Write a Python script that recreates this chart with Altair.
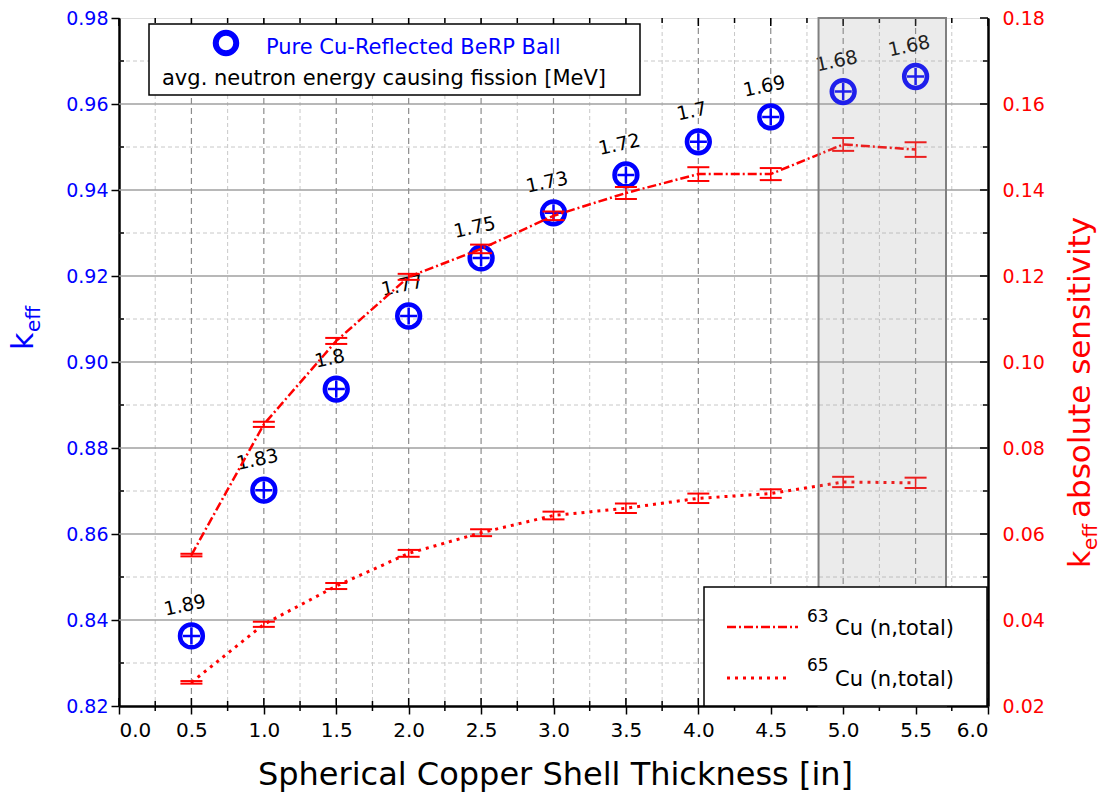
import altair as alt
import pandas as pd

# ---------------- data ----------------
thickness = [0.5, 1.0, 1.5, 2.0, 2.5, 3.0, 3.5, 4.0, 4.5, 5.0, 5.5]
keff = [0.8363, 0.8702, 0.8937, 0.9107, 0.9242, 0.9347, 0.9435, 0.9512, 0.9570, 0.9629, 0.9664]
keff_err = [0.0005, 0.0005, 0.0005, 0.0005, 0.0005, 0.0005, 0.0005, 0.0005, 0.0005, 0.0005, 0.0005]
energy = ["1.89", "1.83", "1.8", "1.77", "1.75", "1.73", "1.72", "1.7", "1.69", "1.68", "1.68"]
cu63 = [0.0551, 0.0855, 0.1049, 0.1198, 0.1263, 0.1340, 0.1393, 0.1437, 0.1437, 0.1506, 0.1494]
cu63_err = [0.0003, 0.0006, 0.0007, 0.0007, 0.0010, 0.0010, 0.0014, 0.0016, 0.0014, 0.0015, 0.0017]
cu65 = [0.0255, 0.0390, 0.0479, 0.0555, 0.0603, 0.0643, 0.0660, 0.0683, 0.0694, 0.0721, 0.0719]
cu65_err = [0.0003, 0.0006, 0.0007, 0.0008, 0.0008, 0.0009, 0.0011, 0.0011, 0.0010, 0.0012, 0.0012]
shade_range = [4.83, 5.71]

x_major = [0.0, 0.5, 1.0, 1.5, 2.0, 2.5, 3.0, 3.5, 4.0, 4.5, 5.0, 5.5, 6.0]
x_minor = [0.25, 0.75, 1.25, 1.75, 2.25, 2.75, 3.25, 3.75, 4.25, 4.75, 5.25, 5.75]
yl_major = [0.82, 0.84, 0.86, 0.88, 0.90, 0.92, 0.94, 0.96, 0.98]
yl_minor = [0.83, 0.85, 0.87, 0.89, 0.91, 0.93, 0.95, 0.97]
yr_major = [0.02, 0.04, 0.06, 0.08, 0.10, 0.12, 0.14, 0.16, 0.18]
yr_minor = [0.03, 0.05, 0.07, 0.09, 0.11, 0.13, 0.15, 0.17]

W, H = 869, 688
FONT = "DejaVu Sans"
BLUE = "#0000ff"
RED = "#ff0000"

df = pd.DataFrame({
    "t": thickness, "keff": keff,
    "klo": [k - e for k, e in zip(keff, keff_err)],
    "khi": [k + e for k, e in zip(keff, keff_err)],
    "E": energy,
    "c63": cu63,
    "c63lo": [v - e for v, e in zip(cu63, cu63_err)],
    "c63hi": [v + e for v, e in zip(cu63, cu63_err)],
    "c65": cu65,
    "c65lo": [v - e for v, e in zip(cu65, cu65_err)],
    "c65hi": [v + e for v, e in zip(cu65, cu65_err)],
})
one = pd.DataFrame({"a": [0]})

xscale = alt.Scale(domain=[0, 6], nice=False, zero=False)
x_axis = alt.Axis(values=x_major, format=".1f", title=None, grid=False,
                  labelFont=FONT, labelFontSize=20, labelColor="black",
                  tickSize=8, tickWidth=1.5, tickColor="black",
                  domainColor="black", domainWidth=2.5, labelPadding=6)
lscale = alt.Scale(domain=[0.82, 0.98], nice=False, zero=False)
l_axis = alt.Axis(values=yl_major, format=".2f", title=None, grid=False,
                  labelFont=FONT, labelFontSize=19, labelColor=BLUE,
                  tickSize=8, tickWidth=1.5, tickColor="black",
                  domainColor="black", domainWidth=2.5, labelPadding=3)
rscale = alt.Scale(domain=[0.02, 0.18], nice=False, zero=False)
r_axis = alt.Axis(values=yr_major, format=".2f", title=None, grid=False, orient="right",
                  labelFont=FONT, labelFontSize=19, labelColor=RED,
                  tickSize=0, tickColor="black",
                  domainColor="black", domainWidth=2.5, labelPadding=14)


def X(field="t"):
    return alt.X(f"{field}:Q", scale=xscale, axis=x_axis)


def YL(field):
    return alt.Y(f"{field}:Q", scale=lscale, axis=l_axis)


def YR(field):
    return alt.Y(f"{field}:Q", scale=rscale, axis=r_axis)


# ---------------- grid lines ----------------
hmaj = pd.DataFrame({"v": yl_major[1:-1]})
hmin = pd.DataFrame({"v": yl_minor})
vmaj = pd.DataFrame({"v": x_major[1:-1]})
vmin = pd.DataFrame({"v": x_minor})

grid_hmin = alt.Chart(hmin).mark_rule(color="#c8c8c8", strokeWidth=1, strokeDash=[4, 3]).encode(
    y=YL("v"), x=alt.value(0), x2=alt.value(W))
grid_vmin = alt.Chart(vmin).mark_rule(color="#c8c8c8", strokeWidth=1, strokeDash=[4, 3]).encode(
    x=X("v"), y=alt.value(0), y2=alt.value(H))
grid_hmaj = alt.Chart(hmaj).mark_rule(color="#a0a0a0", strokeWidth=1.5).encode(
    y=YL("v"), x=alt.value(0), x2=alt.value(W))
grid_vmaj = alt.Chart(vmaj).mark_rule(color="#8c8c8c", strokeWidth=1.2, strokeDash=[6, 4]).encode(
    x=X("v"), y=alt.value(0), y2=alt.value(H))

# inner ticks
xt_maj = pd.DataFrame({"v": x_major})
xt_min = pd.DataFrame({"v": x_minor})
tick_bot_maj = alt.Chart(xt_maj).mark_rule(color="black", strokeWidth=1.5).encode(
    x=X("v"), y=alt.value(H), y2=alt.value(H - 8))
tick_bot_min = alt.Chart(xt_min).mark_rule(color="black", strokeWidth=1.5).encode(
    x=X("v"), y=alt.value(H + 5), y2=alt.value(H - 5))
tick_top_maj = alt.Chart(xt_maj).mark_rule(color="black", strokeWidth=1.5).encode(
    x=X("v"), y=alt.value(0), y2=alt.value(8))
tick_top_min = alt.Chart(xt_min).mark_rule(color="black", strokeWidth=1.5).encode(
    x=X("v"), y=alt.value(0), y2=alt.value(5))
tick_left_min = alt.Chart(pd.DataFrame({"v": yl_minor})).mark_rule(color="black", strokeWidth=1.5).encode(
    y=YL("v"), x=alt.value(0), x2=alt.value(5))
tick_right_maj = alt.Chart(pd.DataFrame({"v": yr_major})).mark_rule(color="black", strokeWidth=1.5).encode(
    y=YR("v"), x=alt.value(W), x2=alt.value(W - 8))
tick_right_min = alt.Chart(pd.DataFrame({"v": yr_minor})).mark_rule(color="black", strokeWidth=1.5).encode(
    y=YR("v"), x=alt.value(W), x2=alt.value(W - 5))

# ---------------- k_eff series (left axis) ----------------
base = alt.Chart(df)
circles = base.mark_point(shape="circle", filled=False, size=520, strokeWidth=4.5, color=BLUE,
                          opacity=1).encode(x=X(), y=YL("keff"))
plus = base.mark_point(shape="M-0.75,0H0.75M0,-0.75V0.75", filled=False, size=520,
                       strokeWidth=2.5, color=BLUE, opacity=1).encode(x=X(), y=YL("keff"))
labels = base.mark_text(font=FONT, fontSize=19, color="black", dy=-31, angle=348).encode(
    x=X(), y=YL("keff"), text="E:N")

left_group = alt.layer(grid_hmin, grid_vmin, grid_hmaj, grid_vmaj,
                       tick_bot_maj, tick_bot_min, tick_top_maj, tick_top_min, tick_left_min,
                       circles, plus, labels)

# ---------------- sensitivity series (right axis) ----------------
line63 = base.mark_line(color=RED, strokeWidth=2.5, strokeDash=[9, 3, 2, 3]).encode(
    x=X(), y=YR("c63"))
bar63 = base.mark_rule(color=RED, strokeWidth=1.5).encode(x=X(), y=YR("c63lo"), y2="c63hi")
cap63a = base.mark_tick(color=RED, size=22, thickness=2, orient="horizontal", opacity=1).encode(
    x=X(), y=YR("c63lo"))
cap63b = base.mark_tick(color=RED, size=22, thickness=2, orient="horizontal", opacity=1).encode(
    x=X(), y=YR("c63hi"))
line65 = base.mark_line(color=RED, strokeWidth=3, strokeDash=[3, 5]).encode(
    x=X(), y=YR("c65"))
bar65 = base.mark_rule(color=RED, strokeWidth=1.5).encode(x=X(), y=YR("c65lo"), y2="c65hi")
cap65a = base.mark_tick(color=RED, size=22, thickness=2, orient="horizontal", opacity=1).encode(
    x=X(), y=YR("c65lo"))
cap65b = base.mark_tick(color=RED, size=22, thickness=2, orient="horizontal", opacity=1).encode(
    x=X(), y=YR("c65hi"))

shade = alt.Chart(pd.DataFrame({"x0": [shade_range[0]], "x1": [shade_range[1]]})).mark_rect(
    fill="#9a9a9a", fillOpacity=0.2, stroke="#808080", strokeWidth=2).encode(
    x=alt.X("x0:Q", scale=xscale, axis=x_axis), x2="x1", y=alt.value(0), y2=alt.value(H))

right_group = alt.layer(tick_right_maj, tick_right_min,
                        line63, bar63, cap63a, cap63b, line65, bar65, cap65a, cap65b, shade)

# ---------------- legends and titles (text) ----------------
ob = alt.Chart(one)
leg1_box = ob.mark_rect(fill="white", stroke="black", strokeWidth=1.5).encode(
    x=alt.value(30), x2=alt.value(521), y=alt.value(6), y2=alt.value(77))
leg1_sym = ob.mark_point(shape="circle", filled=False, size=420, strokeWidth=6, color=BLUE,
                         opacity=1).encode(x=alt.value(107), y=alt.value(25))
leg1_txt = ob.mark_text(font=FONT, fontSize=21, color=BLUE, align="left", baseline="alphabetic").encode(
    x=alt.value(147), y=alt.value(36), text=alt.value("Pure Cu-Reflected BeRP Ball"))
leg1_txt2 = ob.mark_text(font=FONT, fontSize=21, color="black", align="left", baseline="alphabetic").encode(
    x=alt.value(43), y=alt.value(67), text=alt.value("avg. neutron energy causing fission [MeV]"))

leg2_box = ob.mark_rect(fill="white", stroke="black", strokeWidth=1.5).encode(
    x=alt.value(585), x2=alt.value(868), y=alt.value(569), y2=alt.value(688))
leg2_l1 = ob.mark_rule(color=RED, strokeWidth=2.5, strokeDash=[9, 3, 2, 3]).encode(
    x=alt.value(608), x2=alt.value(679), y=alt.value(609))
leg2_l2 = ob.mark_rule(color=RED, strokeWidth=3, strokeDash=[3, 5]).encode(
    x=alt.value(608), x2=alt.value(672), y=alt.value(660))
leg2_s1 = ob.mark_text(font=FONT, fontSize=17, color="black", align="left", baseline="alphabetic").encode(
    x=alt.value(688), y=alt.value(604), text=alt.value("63"))
leg2_t1 = ob.mark_text(font=FONT, fontSize=21, color="black", align="left", baseline="alphabetic").encode(
    x=alt.value(716), y=alt.value(617), text=alt.value("Cu (n,total)"))
leg2_s2 = ob.mark_text(font=FONT, fontSize=17, color="black", align="left", baseline="alphabetic").encode(
    x=alt.value(688), y=alt.value(653), text=alt.value("65"))
leg2_t2 = ob.mark_text(font=FONT, fontSize=21, color="black", align="left", baseline="alphabetic").encode(
    x=alt.value(716), y=alt.value(668), text=alt.value("Cu (n,total)"))

xtitle = ob.mark_text(font=FONT, fontSize=32, color="black", align="center", baseline="middle").encode(
    x=alt.value(W / 2 + 2), y=alt.value(757), text=alt.value("Spherical Copper Shell Thickness [in]"))

ltitle_k = ob.mark_text(font=FONT, fontSize=30, color=BLUE, align="left", baseline="alphabetic", angle=270).encode(
    x=alt.value(-86), y=alt.value(332), text=alt.value("k"))
ltitle_e = ob.mark_text(font=FONT, fontSize=20, color=BLUE, align="left", baseline="alphabetic", angle=270).encode(
    x=alt.value(-79), y=alt.value(314), text=alt.value("eff"))

rtitle_k = ob.mark_text(font=FONT, fontSize=30, color=RED, align="left", baseline="alphabetic", angle=270).encode(
    x=alt.value(971), y=alt.value(550), text=alt.value("k"))
rtitle_e = ob.mark_text(font=FONT, fontSize=20, color=RED, align="left", baseline="alphabetic", angle=270).encode(
    x=alt.value(978), y=alt.value(532), text=alt.value("eff"))
rtitle_m = ob.mark_text(font=FONT, fontSize=31, color=RED, align="left", baseline="alphabetic", angle=270).encode(
    x=alt.value(971), y=alt.value(500), text=alt.value("absolute sensitivity"))

deco = alt.layer(leg1_box, leg1_sym, leg1_txt, leg1_txt2,
                 leg2_box, leg2_l1, leg2_l2, leg2_s1, leg2_t1, leg2_s2, leg2_t2,
                 xtitle, ltitle_k, ltitle_e, rtitle_k, rtitle_e, rtitle_m)

chart = alt.layer(left_group, right_group, deco).resolve_scale(y="independent").properties(
    width=W, height=H,
    autosize=alt.AutoSizeParams(type="none"),
    padding={"left": 119, "top": 18, "right": 119, "bottom": 92},
).configure_view(stroke="black", strokeWidth=2.5).configure(background="white")

chart.save("out.html", embed_options={"renderer": "svg", "actions": False})
